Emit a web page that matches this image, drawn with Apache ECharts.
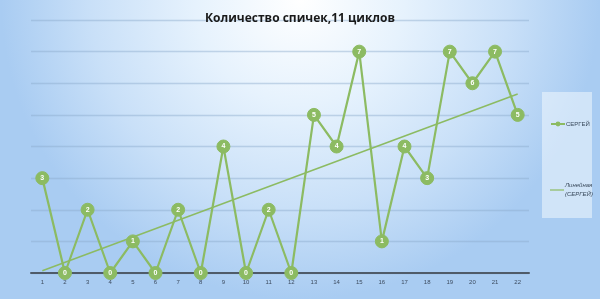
<!DOCTYPE html>
<html><head><meta charset="utf-8">
<script src="https://cdn.jsdelivr.net/npm/echarts@6/dist/echarts.min.js"></script>
<style>html,body{margin:0;padding:0;}#c{width:600px;height:299px;}</style>
</head><body><div id="c"></div>
<script>
const categories = ['1','2','3','4','5','6','7','8','9','10','11','12','13','14','15','16','17','18','19','20','21','22'];
const sergeyValues = [3,0,2,0,1,0,2,0,4,0,2,0,5,4,7,1,4,3,7,6,7,5];
const trendEnds = [0.07, 5.66];
const titleText = 'Количество спичек,11 циклов';
const seriesName = 'СЕРГЕЙ';
const trendName = 'Линейная (СЕРГЕЙ)';

const trendData = categories.map((c, i) => i === 0 ? trendEnds[0] : (i === categories.length - 1 ? trendEnds[1] : null));

const chart = echarts.init(document.getElementById('c'), null, {renderer: 'canvas'});
chart.setOption({
  backgroundColor: {
    type: 'radial', x: 0.5, y: 0.0, r: 1.0,
    colorStops: [
      {offset: 0, color: '#ffffff'},
      {offset: 0.35, color: '#e6f2fd'},
      {offset: 0.7, color: '#c9e0f8'},
      {offset: 1, color: '#a9ccf2'}
    ]
  },
  animation: false,
  title: {
    text: titleText, left: 'center', top: 8,
    textStyle: {fontFamily: 'Open Sans', fontSize: 12, fontWeight: 'bold', color: '#1a1a1a'}
  },
  graphic: [{
    type: 'rect', left: 542, top: 92, shape: {width: 50, height: 126},
    style: {fill: 'rgba(240,247,254,0.55)'}, z: -1
  }],
  legend: [{
    data: [seriesName], left: 545, top: 116, orient: 'vertical',
    itemWidth: 14, itemHeight: 6, itemGap: 4,
    textStyle: {fontSize: 6, color: '#3a4a5c', fontFamily: 'Liberation Sans', padding: [0,0,0,-4]}
  }, {
    data: [trendName], left: 545, top: 176, orient: 'vertical',
    itemWidth: 14, itemHeight: 6,
    icon: 'path://M0,2.4 L14,2.4 L14,3.6 L0,3.6 Z',
    formatter: () => 'Линейная\n(СЕРГЕЙ)',
    textStyle: {fontSize: 6, color: '#3a4a5c', fontStyle: 'italic', fontFamily: 'Liberation Sans', lineHeight: 9, padding: [0,0,0,-4]}
  }],
  grid: {left: 31, right: 71, top: 20, bottom: 26, containLabel: false},
  xAxis: {
    type: 'category', data: categories, boundaryGap: true,
    axisLine: {lineStyle: {color: '#4f5b69', width: 2}},
    axisTick: {show: false},
    axisLabel: {fontSize: 6, color: '#3d4c60', margin: 6, fontFamily: 'Liberation Sans'}
  },
  yAxis: {
    type: 'value', min: 0, max: 8, interval: 1,
    axisLine: {show: false}, axisTick: {show: false}, axisLabel: {show: false},
    splitLine: {lineStyle: {color: 'rgba(140,170,205,0.45)', width: 1.3}}
  },
  series: [{
    name: seriesName, type: 'line', data: sergeyValues,
    symbol: 'circle', symbolSize: 13,
    lineStyle: {color: '#8cbb62', width: 2.2},
    itemStyle: {color: '#8cbb62', borderColor: '#8cbb62'},
    label: {show: true, position: 'inside', color: '#ffffff', fontSize: 7, fontWeight: 'bold', fontFamily: 'Liberation Sans'},
    z: 3
  }, {
    name: trendName, type: 'line', data: trendData, connectNulls: true,
    symbol: 'none', lineStyle: {color: '#8cbb62', width: 1.5},
    itemStyle: {color: '#8cbb62'}, z: 2
  }]
});
</script></body></html>
